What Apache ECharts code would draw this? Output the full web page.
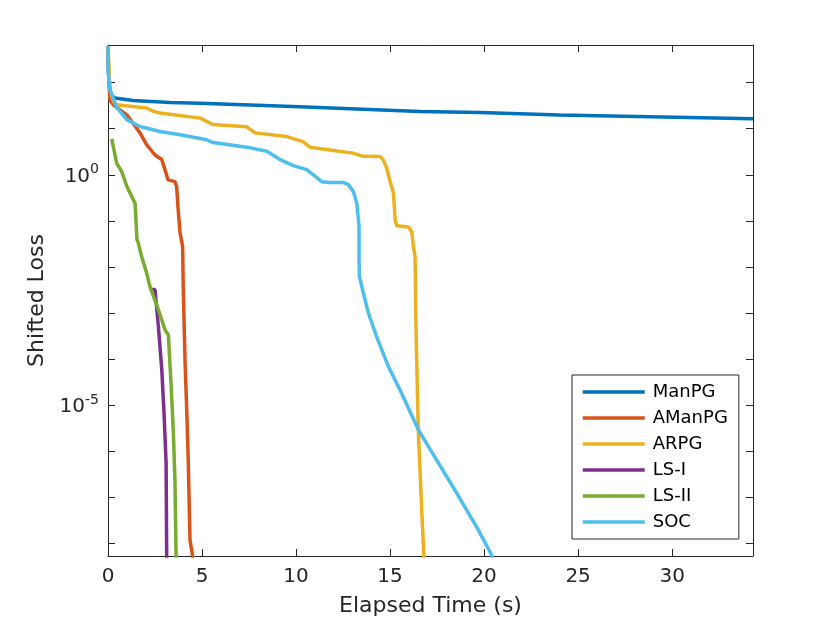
<!DOCTYPE html>
<html>
<head>
<meta charset="utf-8">
<script src="https://cdn.jsdelivr.net/npm/echarts@6/dist/echarts.min.js"></script>
<style>
  html, body { margin: 0; padding: 0; background: #fff; }
  #main { width: 833px; height: 625px; }
</style>
</head>
<body>
<div id="main"></div>
<script>
// series names and colours (MATLAB default order)
const names = ['ManPG', 'AManPG', 'ARPG', 'LS-I', 'LS-II', 'SOC'];
const colors = ['#0072BD', '#D95319', '#EDB120', '#7E2F8E', '#77AC30', '#4DBEEE'];

// [elapsed time (s), shifted loss]
const manpg = [[0, 631], [0.02, 166], [0.1, 70.8], [0.2, 52.5], [0.37, 46.8], [1.33, 41.2],
  [3.3, 37.2], [4.9, 35.9], [10.2, 30.2], [16.6, 23.8], [19.8, 22.4], [24.0, 20.0], [34.3, 16.5]];

const amanpg = [[0, 631], [0.05, 100], [0.1, 42.7], [0.28, 33.1], [1.0, 20.0], [1.33, 13.2],
  [1.7, 8.13], [2.06, 4.47], [2.5, 2.69], [2.86, 2.14], [3.03, 1.29], [3.19, 0.776],
  [3.56, 0.708], [3.65, 0.562], [3.72, 0.204], [3.83, 0.055], [3.97, 0.0275], [4.0, 3.7e-3],
  [4.1, 8.1e-5], [4.19, 7.1e-6], [4.27, 5.5e-7], [4.36, 1.17e-8], [4.5, 5.2e-9], [4.55, 1e-9]];

const arpg = [[0, 631], [0.1, 70.8], [0.3, 38.0], [0.46, 33.1], [2.06, 28.2], [2.4, 24.0],
  [2.77, 21.9], [4.9, 17.0], [5.59, 12.3], [7.38, 11.0], [7.82, 8.13], [9.5, 6.76],
  [10.37, 5.25], [10.74, 3.98], [11.8, 3.47], [13.03, 2.95], [13.56, 2.51], [14.47, 2.5],
  [14.64, 2.1], [14.82, 1.4], [15.0, 0.71], [15.18, 0.40], [15.27, 0.105], [15.36, 0.078],
  [15.97, 0.073], [16.15, 0.059], [16.24, 0.0277], [16.33, 0.0166], [16.38, 4.3e-4],
  [16.5, 2.9e-6], [16.69, 4.5e-8], [16.8, 5.2e-9], [16.82, 1e-9]];

const lsI = [[2.32, 3.2e-3], [2.5, 3.2e-3], [2.68, 5.0e-4], [2.86, 5.8e-5], [2.98, 6.6e-6],
  [3.09, 5.4e-7], [3.12, 5.2e-9], [3.13, 1e-9]];

const lsII = [[0.2, 6.03], [0.46, 1.78], [0.73, 1.17], [1.0, 0.562], [1.26, 0.339], [1.44, 0.24],
  [1.54, 0.0389], [1.61, 0.0331], [1.79, 0.0166], [2.06, 7.2e-3], [2.23, 3.7e-3],
  [2.68, 1.17e-3], [3.03, 4.3e-4], [3.21, 3.3e-4], [3.34, 3.5e-5], [3.47, 2.9e-6],
  [3.56, 2.3e-7], [3.62, 5.2e-9], [3.63, 1e-9]];

const soc = [[0, 631], [0.02, 166], [0.1, 70.8], [0.32, 42.7], [0.43, 30.2], [1.0, 15.8],
  [1.7, 11.2], [2.77, 8.71], [3.83, 7.41], [5.25, 5.75], [5.59, 5.01], [7.38, 3.98],
  [8.44, 3.24], [9.15, 2.14], [9.86, 1.58], [10.57, 1.29], [11.37, 0.708], [11.81, 0.68],
  [12.52, 0.68], [12.78, 0.61], [13.05, 0.43], [13.23, 0.24], [13.35, 0.075], [13.35, 0.014],
  [13.37, 6.2e-3], [13.58, 2.7e-3], [13.85, 9.8e-4], [14.29, 3.0e-4], [14.91, 6.8e-5],
  [15.53, 2.1e-5], [16.5, 2.9e-6], [17.48, 6.3e-7], [18.55, 1.2e-7], [19.61, 2.2e-8],
  [20.41, 5.4e-9], [20.6, 3e-9]];

const seriesData = [manpg, amanpg, arpg, lsI, lsII, soc];

// axis ranges, decade ticks and labelled decades
const xMin = 0, xMax = 34.3, xStep = 5;
const yMin = 5.2e-9, yMax = 660;
const yTicks = [1e2, 1e1, 1, 1e-1, 1e-2, 1e-3, 1e-4, 1e-5, 1e-6, 1e-7, 1e-8];
const yLabels = [1, 1e-5];

const font = 'DejaVu Sans';
const axisColor = '#262626';

const chart = echarts.init(document.getElementById('main'));

// 10^n label with raised exponent
function yLabel(v) {
  const r = Math.round(Math.log10(v));
  return '{b|10}{e|' + r + '}';
}

const baseX = {
  type: 'value',
  min: xMin,
  max: xMax,
  interval: xStep,
  splitLine: { show: false },
  axisLine: { show: true, onZero: false, lineStyle: { color: axisColor, width: 1 } },
  axisTick: { show: true, inside: true, length: 7, lineStyle: { color: axisColor } }
};

const baseY = {
  type: 'log',
  logBase: 10,
  min: yMin,
  max: yMax,
  splitLine: { show: false },
  axisLine: { show: true, onZero: false, lineStyle: { color: axisColor, width: 1 } },
  axisTick: { show: true, inside: true, length: 7, customValues: yTicks, lineStyle: { color: axisColor } }
};

const option = {
  backgroundColor: '#ffffff',
  animation: false,
  textStyle: { fontFamily: font },
  grid: { left: 108, right: 80, top: 45, bottom: 69 },
  xAxis: [
    Object.assign({}, baseX, {
      position: 'bottom',
      name: 'Elapsed Time (s)',
      nameLocation: 'middle',
      nameGap: 39,
      nameTextStyle: { fontSize: 22, color: axisColor, fontFamily: font },
      axisLabel: { show: true, margin: 11, fontSize: 20, color: axisColor, fontFamily: font, showMaxLabel: false }
    }),
    Object.assign({}, baseX, {
      position: 'top',
      axisLabel: { show: false }
    })
  ],
  yAxis: [
    Object.assign({}, baseY, {
      position: 'left',
      name: 'Shifted Loss',
      nameLocation: 'middle',
      nameGap: 60,
      nameTextStyle: { fontSize: 22, color: axisColor, fontFamily: font },
      axisLabel: {
        show: true,
        margin: 9,
        customValues: yLabels,
        formatter: yLabel,
        rich: {
          b: { fontSize: 20, color: axisColor, fontFamily: font, verticalAlign: 'bottom' },
          e: { fontSize: 14, color: axisColor, fontFamily: font, verticalAlign: 'bottom', padding: [0, 0, 10, 0] }
        }
      }
    }),
    Object.assign({}, baseY, {
      position: 'right',
      axisLabel: { show: false }
    })
  ],
  legend: {
    orient: 'vertical',
    left: 572,
    top: 375,
    padding: [8, 11, 8, 9],
    itemWidth: 62,
    itemHeight: 18,
    itemGap: 8,
    borderColor: axisColor,
    borderWidth: 1,
    backgroundColor: '#ffffff',
    itemStyle: { opacity: 0, borderWidth: 0 },
    lineStyle: { width: 3.5 },
    textStyle: { fontSize: 18, color: '#000000', fontFamily: font, padding: [0, 0, 0, 3] },
    data: names
  },
  series: names.map(function (n, i) {
    return {
      name: n,
      type: 'line',
      xAxisIndex: 0,
      yAxisIndex: 0,
      data: seriesData[i],
      symbol: 'none',
      showSymbol: false,
      clip: true,
      color: colors[i],
      lineStyle: { color: colors[i], width: 3.5 }
    };
  })
};

chart.setOption(option);
</script>
</body>
</html>
